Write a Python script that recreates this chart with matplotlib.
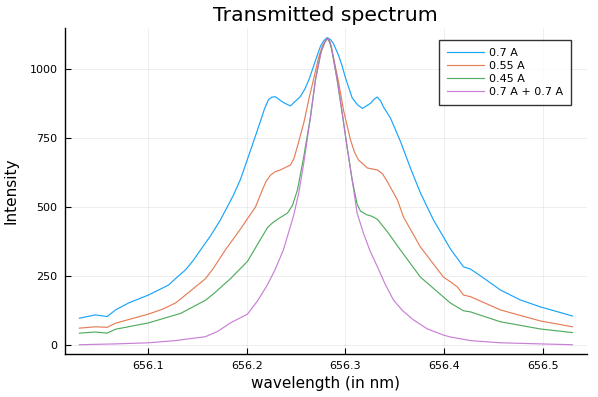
import matplotlib
matplotlib.use("Agg")
import matplotlib.pyplot as plt

# ---- data ----
labels = ["0.7 A", "0.55 A", "0.45 A", "0.7 A + 0.7 A"]
colors = ["#009AFA", "#E36F47", "#3EA44E", "#C371D2"]

wl_a = [656.0306, 656.0468, 656.0587, 656.0671, 656.0803, 656.1005, 656.1208, 656.1278, 656.1380, 656.1456,
        656.1532, 656.1633, 656.1734, 656.1866, 656.1937, 656.2000, 656.2058, 656.2139, 656.2180, 656.2220,
        656.2255, 656.2291, 656.2372, 656.2443, 656.2544, 656.2590, 656.2635, 656.2696, 656.2747, 656.2780,
        656.2815, 656.2850, 656.2878, 656.2929, 656.2965, 656.3000, 656.3068, 656.3122, 656.3172, 656.3253,
        656.3290, 656.3321, 656.3355, 656.3385, 656.3456, 656.3557, 656.3658, 656.3759, 656.3891, 656.4063,
        656.4195, 656.4266, 656.4397, 656.4570, 656.4772, 656.4975, 656.5299]
I_a = [97, 109, 103, 127, 152, 181, 217, 240, 272, 305,
       344, 395, 453, 543, 600, 665, 725, 810, 855, 888,
       898, 899, 878, 866, 900, 928, 965, 1030, 1082, 1102,
       1113, 1106, 1092, 1050, 1012, 968, 895, 870, 857, 875,
       890, 898, 885, 862, 822, 737, 641, 551, 453, 348,
       283, 275, 243, 199, 163, 138, 105]

wl_b = [656.0306, 656.0468, 656.0587, 656.0671, 656.1005, 656.1150, 656.1278, 656.1329, 656.1582, 656.1663,
        656.1785, 656.1937, 656.2089, 656.2159, 656.2195, 656.2241, 656.2290, 656.2342, 656.2443, 656.2478,
        656.2511, 656.2578, 656.2628, 656.2679, 656.2727, 656.2767, 656.2815, 656.2842, 656.2868, 656.2929,
        656.2980, 656.3051, 656.3090, 656.3132, 656.3223, 656.3324, 656.3375, 656.3425, 656.3527, 656.3587,
        656.3759, 656.3992, 656.4063, 656.4134, 656.4195, 656.4266, 656.4570, 656.4975, 656.5299]
I_b = [61, 66, 64, 79, 112, 130, 152, 166, 240, 278,
       345, 420, 500, 562, 592, 615, 628, 634, 652, 675,
       716, 804, 888, 965, 1040, 1083, 1111, 1095, 1060, 955,
       851, 743, 700, 670, 641, 634, 620, 591, 525, 464,
       355, 246, 229, 210, 181, 175, 127, 87, 66]

wl_c = [656.0306, 656.0468, 656.0587, 656.0671, 656.1005, 656.1278, 656.1329, 656.1582, 656.1663, 656.1835,
        656.2008, 656.2210, 656.2260, 656.2311, 656.2360, 656.2413, 656.2463, 656.2514, 656.2578, 656.2646,
        656.2696, 656.2747, 656.2785, 656.2815, 656.2840, 656.2858, 656.2916, 656.2967, 656.3017, 656.3068,
        656.3118, 656.3152, 656.3213, 656.3270, 656.3324, 656.3425, 656.3557, 656.3759, 656.3992, 656.4063,
        656.4195, 656.4266, 656.4570, 656.4975, 656.5299]
I_c = [43, 47, 43, 57, 80, 109, 114, 162, 185, 240,
       303, 425, 442, 455, 466, 478, 505, 562, 682, 827,
       960, 1055, 1092, 1111, 1100, 1075, 960, 840, 716, 598,
       510, 485, 472, 466, 455, 410, 344, 246, 174, 152,
       124, 120, 84, 58, 45]

wl_d = [656.0306, 656.0671, 656.1005, 656.1278, 656.1582, 656.1710, 656.1835, 656.2008, 656.2110, 656.2210,
        656.2290, 656.2372, 656.2476, 656.2527, 656.2578, 656.2646, 656.2696, 656.2757, 656.2790, 656.2815,
        656.2838, 656.2858, 656.2916, 656.2967, 656.3017, 656.3068, 656.3118, 656.3182, 656.3250, 656.3324,
        656.3400, 656.3486, 656.3580, 656.3689, 656.3830, 656.3992, 656.4063, 656.4266, 656.4570, 656.4975,
        656.5299]
I_d = [1, 4, 8, 16, 30, 50, 80, 112, 160, 218,
       275, 345, 470, 551, 659, 826, 960, 1065, 1095, 1111,
       1103, 1080, 960, 840, 716, 598, 478, 405, 340, 283,
       222, 163, 124, 91, 58, 36, 29, 16, 8, 4,
       1]

x_ticks = [656.1, 656.2, 656.3, 656.4, 656.5]
x_ticklabels = ["656.1", "656.2", "656.3", "656.4", "656.5"]
y_ticks = [0, 250, 500, 750, 1000]
y_ticklabels = ["0", "250", "500", "750", "1000"]

series_x = [wl_a, wl_b, wl_c, wl_d]
series_y = [I_a, I_b, I_c, I_d]

plt.rcParams['font.family'] = ['DejaVu Sans']

fig = plt.figure(figsize=(5.98, 3.97), dpi=100)
ax = fig.add_axes([64.5 / 598, 1 - 353.7 / 397, (587 - 64.5) / 598, (353.7 - 28.3) / 397])

for xs, ys, c, lab in zip(series_x, series_y, colors, labels):
    ax.plot(xs, ys, color=c, lw=0.85, alpha=0.9, label=lab, solid_joinstyle="round")

ax.set_xlim(656.0155, 656.5446)
ax.set_ylim(-31.5, 1147)
ax.set_xticks(x_ticks)
ax.set_xticklabels(x_ticklabels)
ax.set_yticks(y_ticks)
ax.set_yticklabels(y_ticklabels)

ax.grid(True, color="black", alpha=0.08, lw=0.6)
for s in ["top", "right"]:
    ax.spines[s].set_visible(False)
for s in ["left", "bottom"]:
    ax.spines[s].set_linewidth(1.0)
    ax.spines[s].set_color("black")
ax.tick_params(direction="in", length=4, width=0.8, labelsize=8, pad=5, colors="black")

ax.set_title("Transmitted spectrum", fontsize=14.7, pad=5)
ax.set_xlabel("wavelength (in nm)", fontsize=11, labelpad=4)
ax.set_ylabel("Intensity", fontsize=11, labelpad=8)

leg = ax.legend(loc="upper left", bbox_to_anchor=(0.7173, 0.964), borderaxespad=0,
                fontsize=8, frameon=True, fancybox=False, handlelength=3.3,
                handletextpad=0.5, borderpad=0.7, labelspacing=0.27)
leg.get_frame().set_edgecolor("black")
leg.get_frame().set_linewidth(1.0)

fig.savefig("out.png", dpi=100)
